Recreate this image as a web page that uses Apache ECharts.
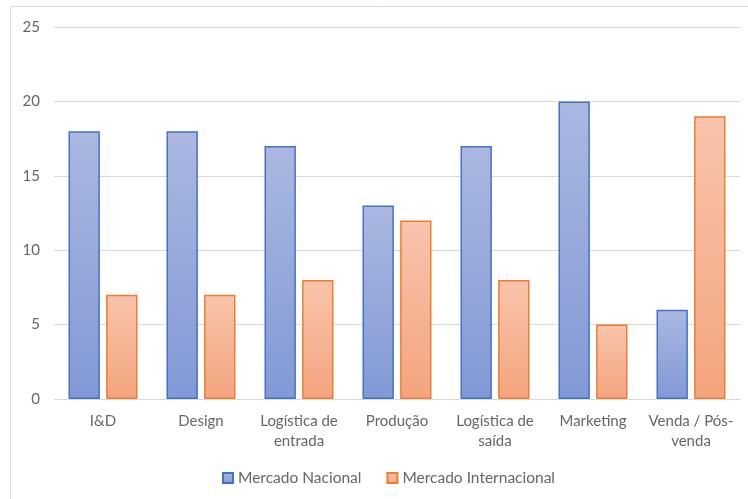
<!DOCTYPE html>
<html><head><meta charset="utf-8">
<script src="https://cdn.jsdelivr.net/npm/echarts@6/dist/echarts.min.js"></script>
<style>html,body{margin:0;padding:0;background:#fff}#c{width:748px;height:499px}</style>
</head><body><div id="c"></div>
<script>
const categories = ['I&D', 'Design', 'Logística de\nentrada', 'Produção', 'Logística de\nsaída', 'Marketing', 'Venda / Pós-\nvenda'];
const nacional = [18, 18, 17, 13, 17, 20, 6];
const internacional = [7, 7, 8, 12, 8, 5, 19];
const seriesNames = ['Mercado Nacional', 'Mercado Internacional'];

const font = 'Lato, "Open Sans", sans-serif';
const txt = '#666666';
function grad(top, bottom) {
  return new echarts.graphic.LinearGradient(0, 0, 0, 1, [{offset: 0, color: top}, {offset: 1, color: bottom}]);
}
const chart = echarts.init(document.getElementById('c'), null, {renderer: 'canvas'});
chart.setOption({
  animation: false,
  graphic: [{type: 'rect', shape: {x: 10.5, y: 6.5, width: 800, height: 600}, style: {fill: 'none', stroke: '#D9D9D9', lineWidth: 1}, silent: true, z: -1}],
  grid: {left: 54, right: 8, top: 27, bottom: 100},
  legend: {
    top: 465, left: 217, itemWidth: 10, itemHeight: 10, itemGap: 25,
    icon: 'rect',
    textStyle: {color: txt, fontFamily: font, fontSize: 15.5},
    data: seriesNames
  },
  xAxis: {
    type: 'category', data: categories,
    axisLine: {lineStyle: {color: '#D9D9D9', width: 1}},
    axisTick: {show: false},
    axisLabel: {color: txt, fontFamily: font, fontSize: 15, margin: 12, lineHeight: 20, interval: 0}
  },
  yAxis: {
    type: 'value', min: 0, max: 25, interval: 5,
    axisLine: {show: false}, axisTick: {show: false},
    splitLine: {lineStyle: {color: '#D9D9D9', width: 1}},
    axisLabel: {color: txt, fontFamily: font, fontSize: 15, margin: 14}
  },
  series: [
    {name: seriesNames[0], type: 'bar', data: nacional, barWidth: '32%', barGap: '20%',
     itemStyle: {color: grad('#AAB8E0', '#8299D6'), borderColor: '#4472C4', borderWidth: 1.5}},
    {name: seriesNames[1], type: 'bar', data: internacional, barWidth: '32%',
     itemStyle: {color: grad('#F8C4AB', '#F4A47E'), borderColor: '#ED7D31', borderWidth: 1.5}}
  ]
});
</script></body></html>
